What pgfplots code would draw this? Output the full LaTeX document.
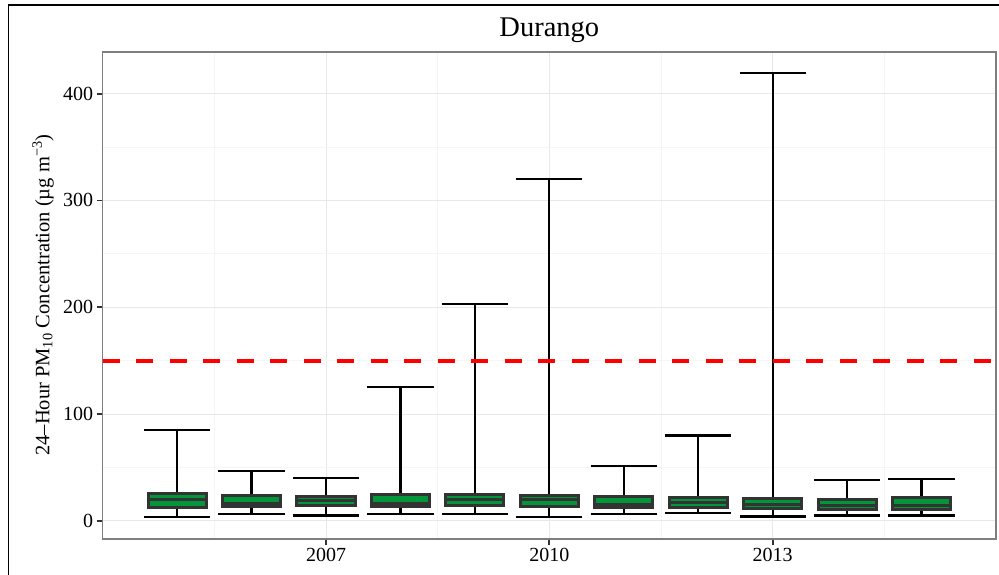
\documentclass[border=0pt]{standalone}
\usepackage{fontspec}
\setmainfont{Liberation Serif}
\usepackage{pgfplots}
\pgfplotsset{compat=1.18}
\usepgfplotslibrary{statistics}
\definecolor{boxgreen}{RGB}{0,150,57}
\definecolor{boxdark}{RGB}{51,51,51}
\definecolor{gridmaj}{RGB}{232,232,232}
\definecolor{gridmin}{RGB}{245,245,245}
\definecolor{panelgray}{RGB}{127,127,127}
\pgfplotsset{
  boxplot/draw direction=y,
  boxplot/box extend=0.78,
  boxplot/whisker extend=0.89,
  boxplot/every box/.style={draw=boxdark, fill=boxgreen, line width=3pt},
  boxplot/every whisker/.style={black, line width=2.2pt},
  boxplot/every median/.style={boxdark, line width=3.2pt},
}
\begin{document}
\begin{tikzpicture}
\useasboundingbox (-102.7pt,-36pt) rectangle (896.3pt,539pt);
\begin{axis}[
  at={(0pt,0pt)}, anchor=south west,
  scale only axis, width=893.3pt, height=487pt,
  xmin=0, xmax=12, ymin=-17, ymax=439,
  xtick={3,6,9}, xticklabels={2007,2010,2013},
  minor xtick={1.5,4.5,7.5,10.5},
  ytick={0,100,200,300,400}, minor ytick={50,150,250,350},
  xtick pos=bottom, ytick pos=left,
  /pgf/number format/assume math mode=true,
  grid=both,
  major grid style={gridmaj, line width=1pt},
  minor grid style={gridmin, line width=1pt},
  axis line style={panelgray, line width=1.3pt},
  tick align=outside,
  major tick length=6pt, minor tick length=0pt,
  every tick/.style={boxdark, line width=1.8pt},
  tick label style={font=\fontsize{20}{20}\selectfont, black},
]
\addplot[boxplot prepared={draw position=1, lower whisker=3.5, lower quartile=12.8, median=19.7, upper quartile=25.3, upper whisker=85}] coordinates {};
\addplot[boxplot prepared={draw position=2, lower whisker=6.3, lower quartile=13.4, median=16.3, upper quartile=23.7, upper whisker=47}] coordinates {};
\addplot[boxplot prepared={draw position=3, lower whisker=5, lower quartile=14, median=18.7, upper quartile=23.1, upper whisker=40}] coordinates {};
\addplot[boxplot prepared={draw position=4, lower whisker=6.3, lower quartile=13.4, median=16.6, upper quartile=24.3, upper whisker=125}] coordinates {};
\addplot[boxplot prepared={draw position=5, lower whisker=6.3, lower quartile=14, median=19.7, upper quartile=24.3, upper whisker=203}] coordinates {};
\addplot[boxplot prepared={draw position=6, lower whisker=3.5, lower quartile=13.4, median=20.3, upper quartile=24, upper whisker=320}] coordinates {};
\addplot[boxplot prepared={draw position=7, lower whisker=6.3, lower quartile=12.5, median=15.6, upper quartile=22.8, upper whisker=51}] coordinates {};
\addplot[boxplot prepared={draw position=8, lower whisker=7.2, lower quartile=12.8, median=17.2, upper quartile=22.2, upper whisker=80}] coordinates {};
\addplot[boxplot prepared={draw position=9, lower whisker=4, lower quartile=11.9, median=15.6, upper quartile=20.6, upper whisker=419}] coordinates {};
\addplot[boxplot prepared={draw position=10, lower whisker=5, lower quartile=11, median=14.5, upper quartile=20, upper whisker=38}] coordinates {};
\addplot[boxplot prepared={draw position=11, lower whisker=5, lower quartile=11, median=14.5, upper quartile=21.8, upper whisker=39}] coordinates {};
\addplot[red, line width=4pt, dash pattern=on 17pt off 16.5pt] coordinates {(0,150) (12,150)};
\end{axis}
\node[font=\fontsize{28.5}{28.5}\selectfont] at (446.65pt,509pt) {Durango};
\node[rotate=90, font=\fontsize{20.5}{20.5}\selectfont] at (-59.7pt,244pt) {24–Hour PM\textsubscript{10} Concentration (µg m\textsuperscript{−3})};
\draw[black, line width=1.3pt] (-94.4pt,-50pt) -- (-94.4pt,534pt) -- (910pt,534pt);
\end{tikzpicture}
\end{document}
